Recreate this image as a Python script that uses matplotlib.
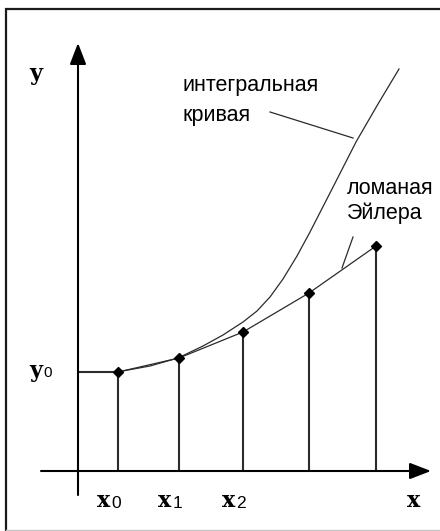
import matplotlib
matplotlib.use('Agg')
import matplotlib.pyplot as plt

# Euler polyline nodes (x_i, y_i)
x_nodes = [4.0, 10.1, 16.5, 23.1, 29.8]
y_nodes = [9.9, 11.3, 13.9, 17.8, 22.5]

# integral curve
x_curve = [3.9, 7.2, 10.0, 12.5, 14.5, 16.5, 17.9, 19.2, 20.5, 21.9, 23.2,
           25.2, 27.8, 30.0, 32.1]
y_curve = [9.9, 10.5, 11.3, 12.5, 13.6, 14.9, 16.0, 17.4, 19.2, 21.5, 23.9,
           27.8, 32.9, 36.7, 40.2]

node_subs = ['0', '1', '2']
curve_text = ['интегральная', 'кривая']
euler_text = ['ломаная', 'Эйлера']

ink = '#2b2b2b'

fig = plt.figure(figsize=(4.4, 5.31), dpi=100)
ax = fig.add_axes([0, 0, 1, 1])
ax.set_xlim(-7.8, 36.2)
ax.set_ylim(-6.0, 47.1)
ax.axis('off')

# frame of the picture
ax.plot([-7.2, -7.2, 36.2], [-6.0, 46.2, 46.2], color='#1a1a1a', lw=1.6,
        solid_joinstyle='miter')
ax.plot([-7.2, 36.2], [-5.9, -5.9], color='#c8c8c8', lw=1.0)

# axes with arrows
arrow = dict(arrowstyle='-|>,head_length=1.3,head_width=0.5', color='black',
             lw=1.5, shrinkA=0, shrinkB=0, mutation_scale=10)
ax.annotate('', xy=(0, 42.8), xytext=(0, -2.4), arrowprops=arrow)
ax.annotate('', xy=(35.3, 0), xytext=(-3.7, 0), arrowprops=arrow)

# ordinates and y0 level
ax.vlines(x_nodes, 0, y_nodes, color=ink, lw=1.5)
ax.hlines(y_nodes[0], 0, x_nodes[0], color=ink, lw=1.5)

# integral curve and Euler polyline
ax.plot(x_curve, y_curve, color=ink, lw=0.9, solid_joinstyle='round')
ax.plot(x_nodes, y_nodes, color=ink, lw=0.9)
ax.plot(x_nodes, y_nodes, 'D', color='black', ms=5.5, mec='black')

# pointer lines
ax.plot([19.2, 27.5], [35.9, 33.3], color=ink, lw=0.9)
ax.plot([27.5, 26.4], [23.4, 20.3], color=ink, lw=0.9)

# texts
sans = 'Liberation Sans'
serif = 'DejaVu Serif'
ax.text(10.4, 38.6, curve_text[0], family=sans, fontsize=15.5, va='center')
ax.text(10.4, 35.6, curve_text[1], family=sans, fontsize=15.5, va='center')
ax.text(26.9, 28.3, euler_text[0], family=sans, fontsize=15.5, va='center')
ax.text(26.9, 25.8, euler_text[1], family=sans, fontsize=15.5, va='center')

ax.text(-4.25, 39.7, 'y', family=serif, weight='bold', fontsize=16,
        ha='center', va='center')
ax.text(-4.2, y_nodes[0] + 0.1, 'y', family=serif, weight='bold',
        fontsize=16, ha='center', va='center')
ax.text(-3.5, y_nodes[0] - 0.1, '0', family=sans, fontsize=11, ha='left',
        va='center')
for xn, sub in zip(x_nodes, node_subs):
    ax.text(xn - 1.45, -3.0, 'x', family=serif, weight='bold', fontsize=16,
            ha='center', va='center')
    ax.text(xn - 0.65, -3.3, sub, family=sans, fontsize=12.5, ha='left',
            va='center')
ax.text(33.6, -3.0, 'x', family=serif, weight='bold', fontsize=16,
        ha='center', va='center')

fig.savefig('out.png', dpi=100, facecolor='white')
